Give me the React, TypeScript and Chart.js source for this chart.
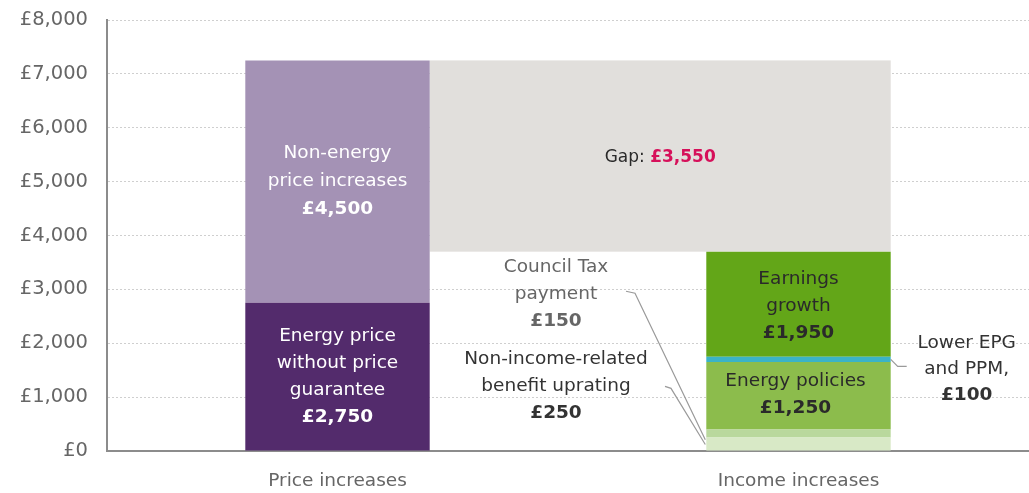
import React, { useEffect, useRef } from 'react';
import { Chart, registerables } from 'chart.js';

Chart.register(...registerables);

const categories = ['Price increases', 'Income increases'];

const priceSegments = ['Energy price without price guarantee', 'Non-energy price increases'];
const priceValues = [2750, 4500];
const priceColors = ['#532b6c', '#a492b5'];

const incomeSegments = [
  'Non-income-related benefit uprating',
  'Council Tax payment',
  'Energy policies',
  'Lower EPG and PPM',
  'Earnings growth',
];
const incomeValues = [250, 150, 1250, 100, 1950];
const incomeColors = ['#d8e9c6', '#b9d89d', '#8cbc4c', '#3bb3c7', '#63a618'];

const yMin = 0;
const yMax = 8000;
const yStep = 1000;

const FONT = '"DejaVu Sans", "Open Sans", sans-serif';

const money = (v: number) => '£' + v.toLocaleString('en-GB');
const sum = (a: number[]) => a.reduce((s, v) => s + v, 0);

type Line = { text: string; bold?: boolean };

function drawBlock(
  ctx: CanvasRenderingContext2D,
  lines: Line[],
  cx: number,
  cy: number,
  color: string,
  size: number,
  lh: number
) {
  ctx.save();
  ctx.fillStyle = color;
  ctx.textAlign = 'center';
  ctx.textBaseline = 'middle';
  const top = cy - ((lines.length - 1) * lh) / 2;
  lines.forEach((l, i) => {
    ctx.font = `${l.bold ? 'bold ' : ''}${size}px ${FONT}`;
    ctx.fillText(l.text, cx, top + i * lh);
  });
  ctx.restore();
}

export default function App() {
  const ref = useRef<HTMLCanvasElement>(null);

  useEffect(() => {
    if (!ref.current) return;
    const nP = priceValues.length;
    const datasets: any[] = [
      ...priceValues.map((v, i) => ({
        label: priceSegments[i],
        data: [v, null],
        backgroundColor: priceColors[i],
      })),
      ...incomeValues.map((v, i) => ({
        label: incomeSegments[i],
        data: [null, v],
        backgroundColor: incomeColors[i],
      })),
    ];

    const priceTotal = sum(priceValues);
    const incomeTotal = sum(incomeValues);
    const gap = priceTotal - incomeTotal;

    const gapPlugin = {
      id: 'gapPlugin',
      beforeDatasetsDraw(chart: any) {
        const ctx = chart.ctx;
        const y = chart.scales.y;
        const lEl = chart.getDatasetMeta(0).data[0];
        const rEl = chart.getDatasetMeta(nP).data[1];
        const x0 = lEl.x + lEl.width / 2;
        const x1 = rEl.x + rEl.width / 2;
        const yTop = y.getPixelForValue(priceTotal);
        const yBot = y.getPixelForValue(incomeTotal);
        ctx.save();
        ctx.fillStyle = '#e1dfdc';
        ctx.fillRect(x0, yTop, x1 - x0, yBot - yTop);
        ctx.restore();
      },
      afterDatasetsDraw(chart: any) {
        const ctx = chart.ctx;
        const y = chart.scales.y;
        const lEl = chart.getDatasetMeta(0).data[0];
        const rEl = chart.getDatasetMeta(nP).data[1];
        const lx = lEl.x;
        const rx = rEl.x;
        const lRight = lEl.x + lEl.width / 2;
        const rLeft = rEl.x - rEl.width / 2;
        const rRight = rEl.x + rEl.width / 2;
        const size = 18.5;
        const lh = 27;

        // price bar labels
        drawBlock(
          ctx,
          [{ text: 'Non-energy' }, { text: 'price increases' }, { text: money(priceValues[1]), bold: true }],
          lx,
          y.getPixelForValue(priceValues[0] + priceValues[1] / 2),
          '#ffffff',
          size,
          28
        );
        drawBlock(
          ctx,
          [
            { text: 'Energy price' },
            { text: 'without price' },
            { text: 'guarantee' },
            { text: money(priceValues[0]), bold: true },
          ],
          lx,
          y.getPixelForValue(priceValues[0] / 2),
          '#ffffff',
          size,
          lh
        );

        // income bar labels
        let base = 0;
        const bases = incomeValues.map((v) => {
          const b = base;
          base += v;
          return b;
        });
        drawBlock(
          ctx,
          [{ text: 'Earnings' }, { text: 'growth' }, { text: money(incomeValues[4]), bold: true }],
          rx,
          y.getPixelForValue(bases[4] + incomeValues[4] / 2) + 2,
          '#2a2a2a',
          size,
          lh
        );
        drawBlock(
          ctx,
          [{ text: 'Energy policies' }, { text: money(incomeValues[2]), bold: true }],
          rx - 3,
          y.getPixelForValue(bases[2] + incomeValues[2] / 2) - 1,
          '#2a2a2a',
          size,
          lh
        );

        // gap label
        ctx.save();
        ctx.textBaseline = 'middle';
        const gy = y.getPixelForValue((priceTotal + incomeTotal) / 2) + 2;
        const gs = 17;
        ctx.font = `${gs}px ${FONT}`;
        const t1 = 'Gap: ';
        const w1 = ctx.measureText(t1).width;
        ctx.font = `bold ${gs}px ${FONT}`;
        const t2 = money(gap);
        const w2 = ctx.measureText(t2).width;
        const gx = (lRight + rRight) / 2 - (w1 + w2) / 2;
        ctx.textAlign = 'left';
        ctx.font = `${gs}px ${FONT}`;
        ctx.fillStyle = '#2a2a2a';
        ctx.fillText(t1, gx, gy);
        ctx.font = `bold ${gs}px ${FONT}`;
        ctx.fillStyle = '#d6105a';
        ctx.fillText(t2, gx + w1, gy);
        ctx.restore();

        // side labels between bars
        const mx = (lRight + rLeft) / 2 - 12;
        drawBlock(
          ctx,
          [{ text: 'Council Tax' }, { text: 'payment' }, { text: money(incomeValues[1]), bold: true }],
          mx,
          y.getPixelForValue(2910),
          '#666666',
          size,
          lh
        );
        drawBlock(
          ctx,
          [{ text: 'Non-income-related' }, { text: 'benefit uprating' }, { text: money(incomeValues[0]), bold: true }],
          mx,
          y.getPixelForValue(1200),
          '#333333',
          size,
          lh
        );
        drawBlock(
          ctx,
          [{ text: 'Lower EPG' }, { text: 'and PPM,' }, { text: money(incomeValues[3]), bold: true }],
          rRight + 76,
          y.getPixelForValue(1520),
          '#333333',
          size,
          26
        );

        // leader lines
        ctx.save();
        ctx.strokeStyle = '#9a9a9a';
        ctx.lineWidth = 1.2;
        const yc = y.getPixelForValue(2910) - 3;
        ctx.beginPath();
        ctx.moveTo(mx + 70, yc);
        ctx.lineTo(mx + 79, yc + 2);
        ctx.lineTo(rLeft - 1, y.getPixelForValue(bases[1] - 40));
        ctx.stroke();
        const yb = y.getPixelForValue(1200);
        ctx.beginPath();
        ctx.moveTo(mx + 109, yb);
        ctx.lineTo(mx + 115, yb + 2);
        ctx.lineTo(rLeft - 1, y.getPixelForValue(bases[0] + 120));
        ctx.stroke();
        const ye = y.getPixelForValue(bases[3] + incomeValues[3] / 2);
        ctx.beginPath();
        ctx.moveTo(rRight, ye);
        ctx.lineTo(rRight + 7, ye + 7);
        ctx.lineTo(rRight + 16, ye + 7);
        ctx.stroke();
        ctx.restore();
      },
    };

    const chart = new Chart(ref.current, {
      type: 'bar',
      data: { labels: categories, datasets },
      options: {
        animation: false,
        responsive: true,
        maintainAspectRatio: false,
        layout: { padding: { top: 20, right: 0, left: 0, bottom: 0 } },
        plugins: {
          legend: { display: false },
          tooltip: { enabled: false },
        },
        datasets: {
          bar: {
            categoryPercentage: 1,
            barPercentage: 0.4,
            borderWidth: 0,
          },
        },
        scales: {
          x: {
            stacked: true,
            grid: { display: false, drawTicks: false },
            border: { display: true, color: '#8c8c8c', width: 2 },
            ticks: {
              color: '#666666',
              font: { family: FONT, size: 18.5 },
              padding: 19,
            },
            afterFit: (s: any) => {
              s.height = 42;
              s.paddingLeft = 0;
              s.paddingRight = 0;
            },
          },
          y: {
            stacked: true,
            min: yMin,
            max: yMax,
            grid: { color: '#cfcfcf', drawTicks: false },
            border: { display: true, color: '#8c8c8c', width: 2, dash: [2, 2] },
            ticks: {
              stepSize: yStep,
              color: '#666666',
              font: { family: FONT, size: 19.5 },
              padding: 19,
              callback: (v: any) => money(Number(v)),
            },
            afterFit: (s: any) => {
              s.width = 107;
              s.paddingTop = 0;
              s.paddingBottom = 0;
            },
          },
        },
      },
      plugins: [gapPlugin],
    });
    return () => chart.destroy();
  }, []);

  return (
    <div style={{ position: 'absolute', left: 0, top: 0, width: 1029, height: 493, background: '#ffffff' }}>
      <canvas ref={ref} />
    </div>
  );
}
